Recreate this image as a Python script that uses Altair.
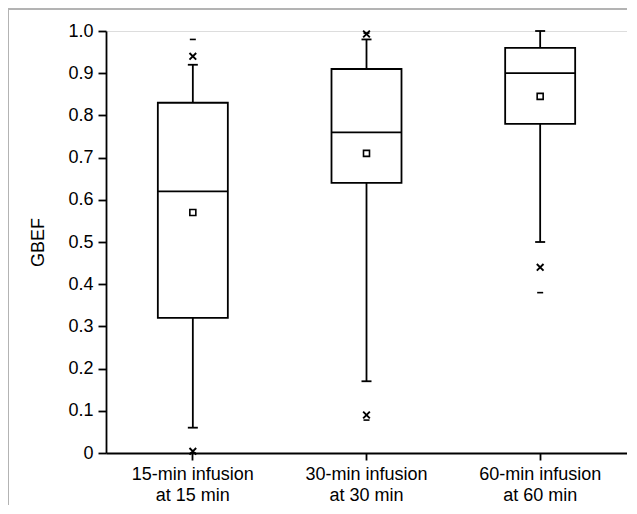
import altair as alt
import pandas as pd

categories = ["15-min infusion\nat 15 min", "30-min infusion\nat 30 min", "60-min infusion\nat 60 min"]
whisker_low = [0.06, 0.17, 0.50]
q1 = [0.32, 0.64, 0.78]
median = [0.62, 0.76, 0.90]
q3 = [0.83, 0.91, 0.96]
whisker_high = [0.92, 0.98, 1.00]
mean = [0.57, 0.71, 0.845]
pct_low = [0.004, 0.09, 0.44]     # "x" markers
pct_high = [0.94, 0.993, None]
min_val = [0.0, 0.078, 0.38]      # "-" markers
max_val = [0.98, 0.995, None]

stats = pd.DataFrame({
    "cat": categories, "wlo": whisker_low, "q1": q1, "med": median,
    "q3": q3, "whi": whisker_high, "mean": mean,
})

xmarks = pd.DataFrame({
    "cat": categories + categories,
    "v": pct_low + pct_high,
}).dropna()
dmarks = pd.DataFrame({
    "cat": categories + categories,
    "v": min_val + max_val,
}).dropna()

FONT = "Liberation Sans"
FS = 18
SW = 1.8
xenc = alt.X("cat:N", sort=categories, title=None,
             scale=alt.Scale(paddingInner=0, paddingOuter=0),
             axis=alt.Axis(labelExpr="split(datum.label, '\\n')", labelAngle=0,
                           labelFont=FONT, labelFontSize=FS, labelColor="black",
                           labelLineHeight=21, labelPadding=5,
                           tickSize=7, tickColor="black", tickWidth=SW,
                           domainColor="black", domainWidth=SW))
ysc = alt.Scale(domain=[0, 1], nice=False)
yaxis = alt.Axis(values=[i / 10 for i in range(11)],
                 labelExpr="datum.value == 0 ? '0' : format(datum.value, '.1f')",
                 labelFont=FONT, labelFontSize=FS, labelColor="black", labelPadding=5,
                 tickSize=8, tickColor="black", tickWidth=SW,
                 domainColor="black", domainWidth=SW, grid=False,
                 title="GBEF", titleFont=FONT, titleFontSize=FS, titleFontWeight="normal",
                 titleColor="black", titlePadding=20)

base = alt.Chart(stats).encode(x=xenc)

wl = base.mark_rule(color="black", strokeWidth=SW).encode(
    y=alt.Y("wlo:Q", scale=ysc, axis=yaxis), y2="q1:Q")
wh = base.mark_rule(color="black", strokeWidth=SW).encode(y=alt.Y("q3:Q"), y2="whi:Q")
box = base.mark_bar(size=70, fill="white", stroke="black", strokeWidth=SW).encode(
    y=alt.Y("q1:Q"), y2="q3:Q")
med = base.mark_tick(size=70, thickness=SW, color="black", opacity=1).encode(y="med:Q")
cap_lo = base.mark_tick(size=10, thickness=SW, color="black", opacity=1).encode(y="wlo:Q")
cap_hi = base.mark_tick(size=10, thickness=SW, color="black", opacity=1).encode(y="whi:Q")
mn = base.mark_point(shape="square", size=36, filled=False, stroke="black",
                     strokeWidth=1.6, opacity=1).encode(y="mean:Q")

xs = alt.Chart(xmarks).mark_point(shape="M-1,-1L1,1M1,-1L-1,1", size=45, filled=False,
                                  stroke="black", strokeWidth=1.9, opacity=1).encode(
    x=xenc, y="v:Q")
ds = alt.Chart(dmarks).mark_tick(size=6, thickness=1.6, color="black", opacity=1).encode(
    x=xenc, y="v:Q")

one = pd.DataFrame({"a": [0]})
frame_left = alt.Chart(one).mark_rule(color="#b3b3b3", strokeWidth=2).encode(
    x=alt.value(-98), y=alt.value(-23), y2=alt.value(480))
frame_top = alt.Chart(one).mark_rule(color="#b3b3b3", strokeWidth=2).encode(
    x=alt.value(-98), x2=alt.value(530), y=alt.value(-22))

chart = alt.layer(wl, wh, box, med, cap_lo, cap_hi, mn, xs, ds, frame_left, frame_top).properties(
    width=521, height=422,
    autosize=alt.AutoSizeParams(type="none"),
    padding={"left": 98, "top": 23, "right": 0, "bottom": 52},
).configure_view(stroke=None).configure(background="white")

chart.save("out.html", embed_options={"renderer": "svg", "actions": False})
